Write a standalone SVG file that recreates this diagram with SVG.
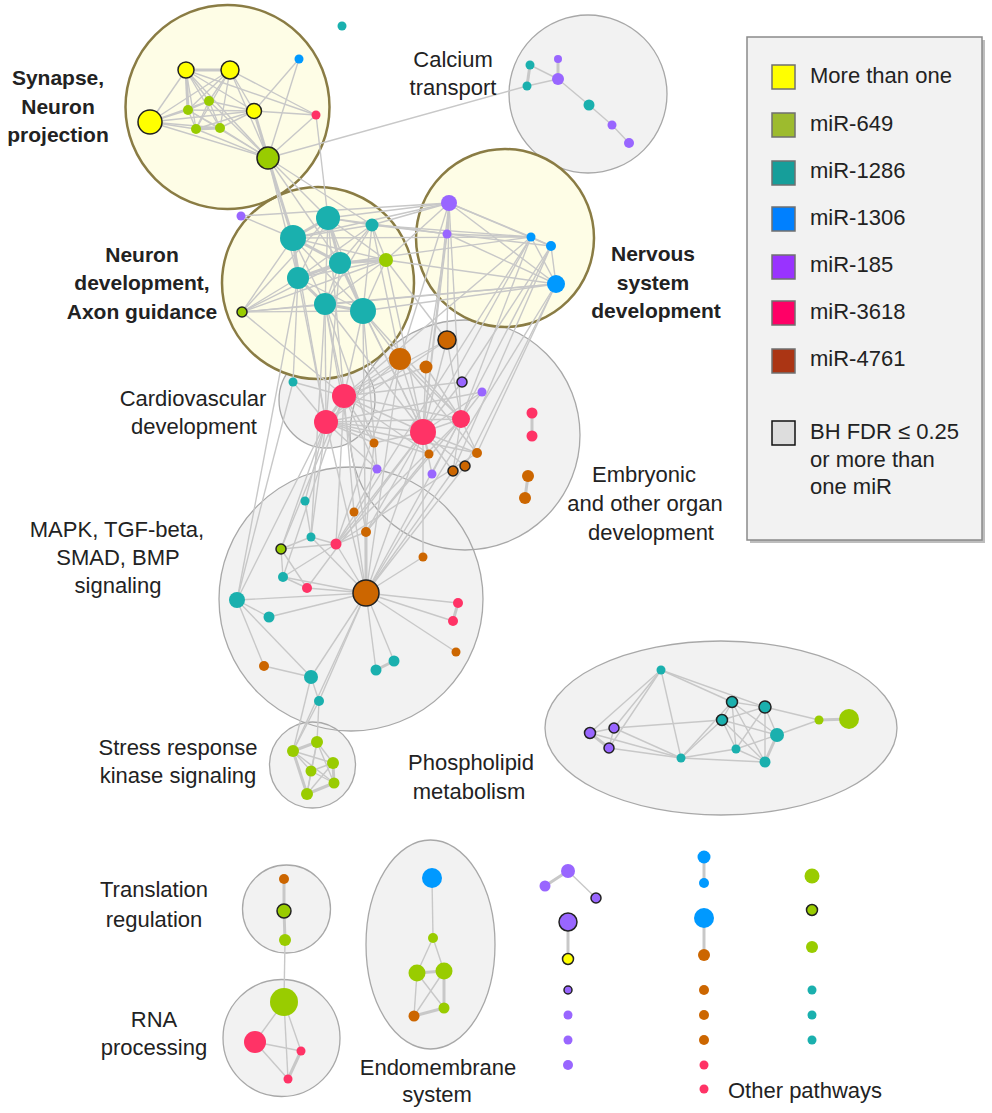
<svg xmlns="http://www.w3.org/2000/svg" width="992" height="1113" viewBox="0 0 992 1113">
<style>
.e{stroke:#c8c8c8;stroke-width:1.4;fill:none}
.w{stroke-width:3}
.cg{fill:#f2f2f2}
.cgs{fill:none;stroke:#a8a8a8;stroke-width:1.3}
.cy{fill:#fefde6}
.cys{fill:none;stroke:#8a7c44;stroke-width:2.5}
.y{fill:#ffff00}.g{fill:#99cc00}.t{fill:#1ab0ae}.b{fill:#0099ff}.p{fill:#9966ff}.k{fill:#ff3366}.o{fill:#cc6600}
.bd{stroke:#222;stroke-width:1.5}
text{font-family:"Liberation Sans",Arial,sans-serif;fill:#222}
.lb{font-size:22px;text-anchor:middle}
.lbb{font-size:21px;font-weight:bold;text-anchor:middle}
.lg{font-size:22px}
.sw{stroke:#707070;stroke-width:1.5}
</style>
<rect width="992" height="1113" fill="#ffffff"/>
<g id="clusters">
<circle class="cg" cx="588" cy="94" r="79"/>
<circle class="cg" cx="465" cy="435" r="115"/>
<circle class="cg" cx="351" cy="599" r="132"/>
<circle class="cg" cx="327" cy="400" r="48"/>
<circle class="cg" cx="312.5" cy="765" r="43"/>
<ellipse class="cg" cx="721" cy="728" rx="176" ry="87"/>
<circle class="cg" cx="286.5" cy="909" r="44"/>
<circle class="cg" cx="281.5" cy="1038" r="58.5"/>
<ellipse class="cg" cx="430.5" cy="944.5" rx="64.5" ry="104.5"/>
<circle class="cgs" cx="588" cy="94" r="79"/>
<circle class="cgs" cx="465" cy="435" r="115"/>
<circle class="cgs" cx="351" cy="599" r="132"/>
<circle class="cgs" cx="327" cy="400" r="48"/>
<circle class="cgs" cx="312.5" cy="765" r="43"/>
<ellipse class="cgs" cx="721" cy="728" rx="176" ry="87"/>
<circle class="cgs" cx="286.5" cy="909" r="44"/>
<circle class="cgs" cx="281.5" cy="1038" r="58.5"/>
<ellipse class="cgs" cx="430.5" cy="944.5" rx="64.5" ry="104.5"/>
<circle class="cy" cx="227.5" cy="107" r="102"/>
<circle class="cy" cx="318" cy="283" r="96"/>
<circle class="cy" cx="505" cy="238" r="89"/>
<circle class="cys" cx="227.5" cy="107" r="102"/>
<circle class="cys" cx="318" cy="283" r="96"/>
<circle class="cys" cx="505" cy="238" r="89"/>
</g>
<g id="connectors">
<!-- synapse -->
<line class="e w" x1="186" y1="70" x2="230" y2="70"/>
<line class="e" x1="186" y1="70" x2="150" y2="122"/>
<line class="e" x1="186" y1="70" x2="254" y2="111"/>
<line class="e w" x1="186" y1="70" x2="188" y2="110"/>
<line class="e" x1="186" y1="70" x2="209" y2="101"/>
<line class="e" x1="186" y1="70" x2="196" y2="129"/>
<line class="e" x1="186" y1="70" x2="220" y2="128"/>
<line class="e" x1="186" y1="70" x2="268" y2="158"/>
<line class="e" x1="230" y1="70" x2="150" y2="122"/>
<line class="e" x1="230" y1="70" x2="254" y2="111"/>
<line class="e" x1="230" y1="70" x2="188" y2="110"/>
<line class="e" x1="230" y1="70" x2="209" y2="101"/>
<line class="e" x1="230" y1="70" x2="196" y2="129"/>
<line class="e" x1="230" y1="70" x2="220" y2="128"/>
<line class="e" x1="230" y1="70" x2="268" y2="158"/>
<line class="e" x1="150" y1="122" x2="254" y2="111"/>
<line class="e" x1="150" y1="122" x2="188" y2="110"/>
<line class="e" x1="150" y1="122" x2="209" y2="101"/>
<line class="e" x1="150" y1="122" x2="196" y2="129"/>
<line class="e" x1="150" y1="122" x2="220" y2="128"/>
<line class="e" x1="150" y1="122" x2="268" y2="158"/>
<line class="e" x1="254" y1="111" x2="188" y2="110"/>
<line class="e" x1="254" y1="111" x2="209" y2="101"/>
<line class="e" x1="254" y1="111" x2="196" y2="129"/>
<line class="e" x1="254" y1="111" x2="220" y2="128"/>
<line class="e w" x1="254" y1="111" x2="268" y2="158"/>
<line class="e" x1="188" y1="110" x2="209" y2="101"/>
<line class="e" x1="188" y1="110" x2="196" y2="129"/>
<line class="e" x1="188" y1="110" x2="220" y2="128"/>
<line class="e" x1="188" y1="110" x2="268" y2="158"/>
<line class="e" x1="209" y1="101" x2="196" y2="129"/>
<line class="e" x1="209" y1="101" x2="220" y2="128"/>
<line class="e" x1="209" y1="101" x2="268" y2="158"/>
<line class="e w" x1="196" y1="129" x2="220" y2="128"/>
<line class="e" x1="196" y1="129" x2="268" y2="158"/>
<line class="e" x1="220" y1="128" x2="268" y2="158"/>
<line class="e" x1="299" y1="59" x2="254" y2="111"/>
<line class="e" x1="299" y1="59" x2="268" y2="158"/>
<line class="e" x1="316" y1="115" x2="186" y2="70"/>
<line class="e" x1="316" y1="115" x2="230" y2="70"/>
<line class="e" x1="316" y1="115" x2="268" y2="158"/>
<line class="e" x1="316" y1="115" x2="254" y2="111"/>
<line class="e" x1="316" y1="115" x2="328" y2="218"/>
<line class="e" x1="268" y1="158" x2="527" y2="86"/>
<line class="e" x1="268" y1="158" x2="328" y2="218"/>
<line class="e w" x1="268" y1="158" x2="293" y2="238"/>
<line class="e" x1="268" y1="158" x2="298" y2="278"/>
<line class="e" x1="268" y1="158" x2="372" y2="225"/>
<line class="e" x1="268" y1="158" x2="340" y2="263"/>
<line class="e" x1="241" y1="216" x2="293" y2="238"/>
<line class="e" x1="241" y1="216" x2="449" y2="203"/>
<!-- calcium -->
<line class="e w" x1="530" y1="65" x2="527" y2="86"/>
<line class="e" x1="530" y1="65" x2="558" y2="79"/>
<line class="e w" x1="558" y1="59" x2="558" y2="79"/>
<line class="e" x1="527" y1="86" x2="558" y2="79"/>
<line class="e" x1="558" y1="79" x2="589" y2="105"/>
<line class="e" x1="589" y1="105" x2="612" y2="125"/>
<line class="e" x1="612" y1="125" x2="629" y2="143"/>
<!-- neuron development internal -->
<line class="e w" x1="328" y1="218" x2="293" y2="238"/>
<line class="e" x1="328" y1="218" x2="372" y2="225"/>
<line class="e w" x1="328" y1="218" x2="340" y2="263"/>
<line class="e" x1="328" y1="218" x2="298" y2="278"/>
<line class="e" x1="328" y1="218" x2="325" y2="304"/>
<line class="e" x1="328" y1="218" x2="363" y2="311"/>
<line class="e" x1="328" y1="218" x2="386" y2="260"/>
<line class="e" x1="293" y1="238" x2="372" y2="225"/>
<line class="e w" x1="293" y1="238" x2="340" y2="263"/>
<line class="e w" x1="293" y1="238" x2="298" y2="278"/>
<line class="e" x1="293" y1="238" x2="325" y2="304"/>
<line class="e" x1="293" y1="238" x2="363" y2="311"/>
<line class="e" x1="293" y1="238" x2="386" y2="260"/>
<line class="e" x1="372" y1="225" x2="340" y2="263"/>
<line class="e" x1="372" y1="225" x2="298" y2="278"/>
<line class="e" x1="372" y1="225" x2="325" y2="304"/>
<line class="e" x1="372" y1="225" x2="363" y2="311"/>
<line class="e" x1="372" y1="225" x2="386" y2="260"/>
<line class="e w" x1="340" y1="263" x2="298" y2="278"/>
<line class="e" x1="340" y1="263" x2="325" y2="304"/>
<line class="e w" x1="340" y1="263" x2="363" y2="311"/>
<line class="e w" x1="340" y1="263" x2="386" y2="260"/>
<line class="e w" x1="298" y1="278" x2="325" y2="304"/>
<line class="e" x1="298" y1="278" x2="363" y2="311"/>
<line class="e" x1="298" y1="278" x2="386" y2="260"/>
<line class="e w" x1="325" y1="304" x2="363" y2="311"/>
<line class="e" x1="325" y1="304" x2="386" y2="260"/>
<line class="e" x1="363" y1="311" x2="386" y2="260"/>
<line class="e" x1="242" y1="312" x2="328" y2="218"/>
<line class="e" x1="242" y1="312" x2="293" y2="238"/>
<line class="e" x1="242" y1="312" x2="340" y2="263"/>
<line class="e" x1="242" y1="312" x2="298" y2="278"/>
<line class="e" x1="242" y1="312" x2="325" y2="304"/>
<line class="e" x1="242" y1="312" x2="363" y2="311"/>
<line class="e" x1="242" y1="312" x2="386" y2="260"/>
<line class="e" x1="242" y1="312" x2="556" y2="284"/>
<!-- neuron dev to nervous -->
<line class="e" x1="328" y1="218" x2="449" y2="203"/>
<line class="e" x1="372" y1="225" x2="449" y2="203"/>
<line class="e" x1="293" y1="238" x2="449" y2="203"/>
<line class="e" x1="328" y1="218" x2="447" y2="234"/>
<line class="e" x1="372" y1="225" x2="531" y2="237"/>
<line class="e" x1="340" y1="263" x2="531" y2="237"/>
<line class="e" x1="386" y1="260" x2="556" y2="284"/>
<line class="e" x1="363" y1="311" x2="556" y2="284"/>
<line class="e" x1="325" y1="304" x2="556" y2="284"/>
<line class="e" x1="372" y1="225" x2="551" y2="246"/>
<line class="e" x1="293" y1="238" x2="531" y2="237"/>
<line class="e" x1="386" y1="260" x2="449" y2="203"/>
<!-- nervous internal -->
<line class="e" x1="449" y1="203" x2="447" y2="234"/>
<line class="e" x1="449" y1="203" x2="531" y2="237"/>
<line class="e" x1="449" y1="203" x2="551" y2="246"/>
<line class="e" x1="449" y1="203" x2="556" y2="284"/>
<line class="e" x1="447" y1="234" x2="531" y2="237"/>
<line class="e" x1="447" y1="234" x2="556" y2="284"/>
<line class="e" x1="531" y1="237" x2="551" y2="246"/>
<line class="e" x1="531" y1="237" x2="556" y2="284"/>
<line class="e" x1="551" y1="246" x2="556" y2="284"/>
<!-- nervous to cardio / embryonic -->
<line class="e" x1="449" y1="203" x2="423" y2="432"/>
<line class="e" x1="449" y1="203" x2="461" y2="419"/>
<line class="e" x1="447" y1="234" x2="423" y2="432"/>
<line class="e" x1="531" y1="237" x2="461" y2="419"/>
<line class="e" x1="551" y1="246" x2="462" y2="382"/>
<line class="e" x1="556" y1="284" x2="477" y2="453"/>
<line class="e" x1="556" y1="284" x2="465" y2="466"/>
<line class="e" x1="551" y1="246" x2="453" y2="471"/>
<line class="e" x1="531" y1="237" x2="423" y2="432"/>
<line class="e" x1="449" y1="203" x2="400" y2="359"/>
<line class="e" x1="447" y1="234" x2="426" y2="367"/>
<line class="e" x1="449" y1="203" x2="447" y2="340"/>
<line class="e" x1="556" y1="284" x2="366" y2="593"/>
<line class="e" x1="551" y1="246" x2="432" y2="474"/>
<line class="e" x1="531" y1="237" x2="344" y2="396"/>
<!-- neuron dev to cardio -->
<line class="e" x1="298" y1="278" x2="326" y2="422"/>
<line class="e" x1="325" y1="304" x2="344" y2="396"/>
<line class="e" x1="363" y1="311" x2="423" y2="432"/>
<line class="e" x1="325" y1="304" x2="423" y2="432"/>
<line class="e" x1="363" y1="311" x2="400" y2="359"/>
<line class="e" x1="298" y1="278" x2="293" y2="382"/>
<line class="e" x1="242" y1="312" x2="344" y2="396"/>
<line class="e" x1="340" y1="263" x2="326" y2="422"/>
<line class="e" x1="363" y1="311" x2="461" y2="419"/>
<line class="e" x1="325" y1="304" x2="374" y2="443"/>
<line class="e" x1="293" y1="238" x2="326" y2="422"/>
<line class="e" x1="363" y1="311" x2="377" y2="469"/>
<line class="e" x1="340" y1="263" x2="423" y2="432"/>
<line class="e" x1="328" y1="218" x2="344" y2="396"/>
<line class="e" x1="372" y1="225" x2="400" y2="359"/>
<line class="e" x1="386" y1="260" x2="423" y2="432"/>
<line class="e" x1="386" y1="260" x2="447" y2="340"/>
<line class="e" x1="363" y1="311" x2="344" y2="396"/>
<line class="e" x1="325" y1="304" x2="326" y2="422"/>
<!-- cardio internal -->
<line class="e w" x1="344" y1="396" x2="326" y2="422"/>
<line class="e" x1="344" y1="396" x2="423" y2="432"/>
<line class="e" x1="326" y1="422" x2="423" y2="432"/>
<line class="e" x1="423" y1="432" x2="461" y2="419"/>
<line class="e" x1="344" y1="396" x2="461" y2="419"/>
<line class="e" x1="326" y1="422" x2="461" y2="419"/>
<line class="e" x1="400" y1="359" x2="344" y2="396"/>
<line class="e" x1="400" y1="359" x2="423" y2="432"/>
<line class="e" x1="400" y1="359" x2="326" y2="422"/>
<line class="e" x1="426" y1="367" x2="423" y2="432"/>
<line class="e" x1="426" y1="367" x2="344" y2="396"/>
<line class="e" x1="447" y1="340" x2="423" y2="432"/>
<line class="e" x1="447" y1="340" x2="461" y2="419"/>
<line class="e" x1="447" y1="340" x2="326" y2="422"/>
<line class="e" x1="462" y1="382" x2="423" y2="432"/>
<line class="e" x1="482" y1="392" x2="423" y2="432"/>
<line class="e" x1="482" y1="392" x2="461" y2="419"/>
<line class="e" x1="293" y1="382" x2="344" y2="396"/>
<line class="e" x1="293" y1="382" x2="326" y2="422"/>
<line class="e" x1="344" y1="396" x2="374" y2="443"/>
<line class="e" x1="326" y1="422" x2="374" y2="443"/>
<line class="e" x1="423" y1="432" x2="429" y2="454"/>
<line class="e" x1="423" y1="432" x2="477" y2="453"/>
<line class="e" x1="461" y1="419" x2="477" y2="453"/>
<line class="e" x1="461" y1="419" x2="453" y2="471"/>
<line class="e" x1="423" y1="432" x2="453" y2="471"/>
<line class="e" x1="423" y1="432" x2="465" y2="466"/>
<line class="e" x1="344" y1="396" x2="377" y2="469"/>
<line class="e" x1="326" y1="422" x2="377" y2="469"/>
<line class="e" x1="423" y1="432" x2="432" y2="474"/>
<line class="e" x1="374" y1="443" x2="423" y2="432"/>
<line class="e w" x1="532" y1="413" x2="532" y2="436"/>
<line class="e w" x1="528" y1="476" x2="525" y2="498"/>
<line class="e" x1="426" y1="367" x2="461" y2="419"/>
<line class="e" x1="400" y1="359" x2="461" y2="419"/>
<line class="e" x1="326" y1="422" x2="429" y2="454"/>
<line class="e" x1="344" y1="396" x2="429" y2="454"/>
<line class="e" x1="326" y1="422" x2="477" y2="453"/>
<line class="e" x1="400" y1="359" x2="477" y2="453"/>
<line class="e" x1="447" y1="340" x2="344" y2="396"/>
<line class="e" x1="462" y1="382" x2="344" y2="396"/>
<line class="e" x1="482" y1="392" x2="326" y2="422"/>
<!-- cardio to MAPK -->
<line class="e" x1="326" y1="422" x2="305" y2="501"/>
<line class="e" x1="344" y1="396" x2="354" y2="512"/>
<line class="e" x1="326" y1="422" x2="311" y2="537"/>
<line class="e" x1="344" y1="396" x2="336" y2="544"/>
<line class="e" x1="423" y1="432" x2="366" y2="532"/>
<line class="e" x1="461" y1="419" x2="366" y2="532"/>
<line class="e" x1="423" y1="432" x2="336" y2="544"/>
<line class="e" x1="326" y1="422" x2="281" y2="549"/>
<line class="e" x1="344" y1="396" x2="281" y2="549"/>
<line class="e" x1="423" y1="432" x2="366" y2="593"/>
<line class="e" x1="326" y1="422" x2="366" y2="593"/>
<line class="e" x1="461" y1="419" x2="366" y2="593"/>
<line class="e" x1="400" y1="359" x2="366" y2="593"/>
<line class="e" x1="423" y1="432" x2="423" y2="557"/>
<line class="e" x1="374" y1="443" x2="366" y2="532"/>
<line class="e" x1="377" y1="469" x2="354" y2="512"/>
<line class="e" x1="326" y1="422" x2="237" y2="600"/>
<line class="e" x1="293" y1="382" x2="237" y2="600"/>
<line class="e" x1="423" y1="432" x2="307" y2="588"/>
<line class="e" x1="465" y1="466" x2="366" y2="593"/>
<line class="e" x1="453" y1="471" x2="366" y2="593"/>
<line class="e" x1="344" y1="396" x2="283" y2="577"/>
<line class="e" x1="461" y1="419" x2="336" y2="544"/>
<line class="e" x1="400" y1="359" x2="336" y2="544"/>
<line class="e" x1="298" y1="278" x2="237" y2="600"/>
<line class="e" x1="325" y1="304" x2="311" y2="537"/>
<line class="e" x1="363" y1="311" x2="366" y2="593"/>
<line class="e" x1="325" y1="304" x2="366" y2="532"/>
<line class="e" x1="531" y1="237" x2="336" y2="544"/>
<line class="e" x1="477" y1="453" x2="336" y2="544"/>
<line class="e" x1="429" y1="454" x2="366" y2="532"/>
<!-- MAPK internal -->
<line class="e" x1="366" y1="593" x2="237" y2="600"/>
<line class="e" x1="366" y1="593" x2="269" y2="617"/>
<line class="e" x1="366" y1="593" x2="307" y2="588"/>
<line class="e" x1="366" y1="593" x2="283" y2="577"/>
<line class="e" x1="366" y1="593" x2="336" y2="544"/>
<line class="e w" x1="366" y1="593" x2="366" y2="532"/>
<line class="e" x1="366" y1="593" x2="423" y2="557"/>
<line class="e" x1="366" y1="593" x2="458" y2="603"/>
<line class="e" x1="366" y1="593" x2="453" y2="621"/>
<line class="e" x1="366" y1="593" x2="456" y2="652"/>
<line class="e" x1="366" y1="593" x2="376" y2="670"/>
<line class="e" x1="366" y1="593" x2="394" y2="661"/>
<line class="e" x1="366" y1="593" x2="311" y2="677"/>
<line class="e" x1="366" y1="593" x2="319" y2="701"/>
<line class="e" x1="366" y1="593" x2="354" y2="512"/>
<line class="e" x1="237" y1="600" x2="269" y2="617"/>
<line class="e" x1="237" y1="600" x2="264" y2="666"/>
<line class="e" x1="237" y1="600" x2="311" y2="677"/>
<line class="e" x1="264" y1="666" x2="311" y2="677"/>
<line class="e" x1="311" y1="677" x2="319" y2="701"/>
<line class="e" x1="281" y1="549" x2="283" y2="577"/>
<line class="e" x1="281" y1="549" x2="311" y2="537"/>
<line class="e" x1="281" y1="549" x2="336" y2="544"/>
<line class="e" x1="281" y1="549" x2="307" y2="588"/>
<line class="e" x1="311" y1="537" x2="336" y2="544"/>
<line class="e" x1="283" y1="577" x2="336" y2="544"/>
<line class="e w" x1="458" y1="603" x2="453" y2="621"/>
<line class="e w" x1="376" y1="670" x2="394" y2="661"/>
<line class="e" x1="336" y1="544" x2="366" y2="532"/>
<line class="e" x1="305" y1="501" x2="311" y2="537"/>
<line class="e" x1="283" y1="577" x2="307" y2="588"/>
<line class="e" x1="311" y1="537" x2="366" y2="593"/>
<!-- MAPK to stress -->
<line class="e" x1="311" y1="677" x2="293" y2="751"/>
<line class="e" x1="319" y1="701" x2="293" y2="751"/>
<line class="e" x1="319" y1="701" x2="317" y2="742"/>
<line class="e" x1="366" y1="593" x2="293" y2="751"/>
<!-- stress internal -->
<line class="e w" x1="293" y1="751" x2="317" y2="742"/>
<line class="e" x1="293" y1="751" x2="333" y2="763"/>
<line class="e" x1="293" y1="751" x2="311" y2="771"/>
<line class="e" x1="293" y1="751" x2="334" y2="783"/>
<line class="e w" x1="293" y1="751" x2="307" y2="794"/>
<line class="e" x1="317" y1="742" x2="333" y2="763"/>
<line class="e" x1="317" y1="742" x2="311" y2="771"/>
<line class="e" x1="317" y1="742" x2="334" y2="783"/>
<line class="e" x1="317" y1="742" x2="307" y2="794"/>
<line class="e" x1="333" y1="763" x2="311" y2="771"/>
<line class="e w" x1="333" y1="763" x2="334" y2="783"/>
<line class="e" x1="333" y1="763" x2="307" y2="794"/>
<line class="e" x1="311" y1="771" x2="334" y2="783"/>
<line class="e" x1="311" y1="771" x2="307" y2="794"/>
<line class="e w" x1="334" y1="783" x2="307" y2="794"/>
<!-- phospholipid -->
<line class="e" x1="661" y1="670" x2="590" y2="733"/>
<line class="e" x1="661" y1="670" x2="614" y2="728"/>
<line class="e" x1="661" y1="670" x2="609" y2="748"/>
<line class="e" x1="661" y1="670" x2="681" y2="758"/>
<line class="e" x1="661" y1="670" x2="732" y2="702"/>
<line class="e" x1="661" y1="670" x2="765" y2="707"/>
<line class="e" x1="590" y1="733" x2="614" y2="728"/>
<line class="e w" x1="590" y1="733" x2="609" y2="748"/>
<line class="e" x1="614" y1="728" x2="609" y2="748"/>
<line class="e" x1="590" y1="733" x2="681" y2="758"/>
<line class="e" x1="614" y1="728" x2="681" y2="758"/>
<line class="e" x1="609" y1="748" x2="681" y2="758"/>
<line class="e" x1="614" y1="728" x2="722" y2="720"/>
<line class="e" x1="681" y1="758" x2="722" y2="720"/>
<line class="e" x1="681" y1="758" x2="732" y2="702"/>
<line class="e" x1="681" y1="758" x2="765" y2="762"/>
<line class="e" x1="681" y1="758" x2="736" y2="749"/>
<line class="e" x1="732" y1="702" x2="765" y2="707"/>
<line class="e" x1="732" y1="702" x2="722" y2="720"/>
<line class="e" x1="732" y1="702" x2="736" y2="749"/>
<line class="e" x1="732" y1="702" x2="765" y2="762"/>
<line class="e" x1="732" y1="702" x2="777" y2="735"/>
<line class="e" x1="765" y1="707" x2="722" y2="720"/>
<line class="e" x1="765" y1="707" x2="777" y2="735"/>
<line class="e" x1="765" y1="707" x2="736" y2="749"/>
<line class="e" x1="765" y1="707" x2="765" y2="762"/>
<line class="e" x1="765" y1="707" x2="819" y2="720"/>
<line class="e" x1="722" y1="720" x2="777" y2="735"/>
<line class="e" x1="722" y1="720" x2="736" y2="749"/>
<line class="e" x1="722" y1="720" x2="765" y2="762"/>
<line class="e" x1="777" y1="735" x2="819" y2="720"/>
<line class="e w" x1="777" y1="735" x2="765" y2="762"/>
<line class="e" x1="777" y1="735" x2="736" y2="749"/>
<line class="e" x1="736" y1="749" x2="765" y2="762"/>
<line class="e w" x1="819" y1="720" x2="849" y2="719"/>
<!-- translation / RNA -->
<line class="e w" x1="284" y1="879" x2="284" y2="911"/>
<line class="e w" x1="284" y1="911" x2="285" y2="940"/>
<line class="e" x1="285" y1="940" x2="284" y2="1002"/>
<line class="e" x1="284" y1="1002" x2="255" y2="1042"/>
<line class="e" x1="284" y1="1002" x2="301" y2="1051"/>
<line class="e" x1="284" y1="1002" x2="288" y2="1079"/>
<line class="e" x1="255" y1="1042" x2="301" y2="1051"/>
<line class="e" x1="255" y1="1042" x2="288" y2="1079"/>
<line class="e w" x1="301" y1="1051" x2="288" y2="1079"/>
<!-- endomembrane -->
<line class="e" x1="432" y1="878" x2="433" y2="938"/>
<line class="e" x1="433" y1="938" x2="417" y2="973"/>
<line class="e" x1="433" y1="938" x2="444" y2="971"/>
<line class="e w" x1="417" y1="973" x2="444" y2="971"/>
<line class="e" x1="417" y1="973" x2="444" y2="1008"/>
<line class="e" x1="417" y1="973" x2="414" y2="1016"/>
<line class="e w" x1="444" y1="971" x2="444" y2="1008"/>
<line class="e" x1="444" y1="971" x2="414" y2="1016"/>
<line class="e w" x1="444" y1="1008" x2="414" y2="1016"/>
<!-- other pathways -->
<line class="e w" x1="568" y1="871" x2="545" y2="886"/>
<line class="e" x1="568" y1="871" x2="596" y2="898"/>
<line class="e w" x1="568" y1="922" x2="568" y2="959"/>
<line class="e w" x1="704" y1="857" x2="704" y2="883"/>
<line class="e w" x1="704" y1="918" x2="704" y2="955"/>
</g>
<g id="nodes">
<g id="n-t0"><circle class="t" cx="342" cy="26" r="4.5"/></g>
<g id="n-s1"><circle class="y bd" cx="186" cy="70" r="8"/></g>
<g id="n-s2"><circle class="y bd" cx="230" cy="70" r="9"/></g>
<g id="n-s3"><circle class="y bd" cx="150" cy="122" r="12"/></g>
<g id="n-s4"><circle class="y bd" cx="254" cy="111" r="7.5"/></g>
<g id="n-s5"><circle class="g" cx="188" cy="110" r="5"/></g>
<g id="n-s6"><circle class="g" cx="209" cy="101" r="5"/></g>
<g id="n-s7"><circle class="g" cx="196" cy="129" r="5"/></g>
<g id="n-s8"><circle class="g" cx="220" cy="128" r="5"/></g>
<g id="n-s9"><circle class="g bd" cx="268" cy="158" r="11"/></g>
<g id="n-s10"><circle class="b" cx="299" cy="59" r="4.5"/></g>
<g id="n-s11"><circle class="k" cx="316" cy="115" r="4.5"/></g>
<g id="n-p0"><circle class="p" cx="241" cy="216" r="4.5"/></g>
<g id="n-a1"><circle class="t" cx="530" cy="65" r="4.5"/></g>
<g id="n-a2"><circle class="t" cx="527" cy="86" r="4.5"/></g>
<g id="n-a3"><circle class="p" cx="558" cy="59" r="4"/></g>
<g id="n-a4"><circle class="p" cx="558" cy="79" r="6"/></g>
<g id="n-a5"><circle class="t" cx="589" cy="105" r="5.5"/></g>
<g id="n-a6"><circle class="p" cx="612" cy="125" r="4.5"/></g>
<g id="n-a7"><circle class="p" cx="629" cy="143" r="5"/></g>
<g id="n-n1"><circle class="t" cx="328" cy="218" r="12"/></g>
<g id="n-n2"><circle class="t" cx="293" cy="238" r="13"/></g>
<g id="n-n3"><circle class="t" cx="372" cy="225" r="6.5"/></g>
<g id="n-n4"><circle class="t" cx="340" cy="263" r="11"/></g>
<g id="n-n5"><circle class="t" cx="298" cy="278" r="11"/></g>
<g id="n-n6"><circle class="t" cx="325" cy="304" r="11"/></g>
<g id="n-n7"><circle class="t" cx="363" cy="311" r="13"/></g>
<g id="n-n8"><circle class="g" cx="386" cy="260" r="7"/></g>
<g id="n-n9"><circle class="g bd" cx="242" cy="312" r="5"/></g>
<g id="n-v1"><circle class="p" cx="449" cy="203" r="8"/></g>
<g id="n-v2"><circle class="p" cx="447" cy="234" r="4.5"/></g>
<g id="n-v3"><circle class="b" cx="531" cy="237" r="4.5"/></g>
<g id="n-v4"><circle class="b" cx="551" cy="246" r="5"/></g>
<g id="n-v5"><circle class="b" cx="556" cy="284" r="9"/></g>
<g id="n-c1"><circle class="o bd" cx="447" cy="340" r="9"/></g>
<g id="n-c2"><circle class="o" cx="400" cy="359" r="11"/></g>
<g id="n-c3"><circle class="o" cx="426" cy="367" r="6.5"/></g>
<g id="n-c4"><circle class="p bd" cx="462" cy="382" r="5"/></g>
<g id="n-c5"><circle class="p" cx="482" cy="392" r="4.5"/></g>
<g id="n-c6"><circle class="t" cx="293" cy="382" r="4.5"/></g>
<g id="n-c7"><circle class="k" cx="344" cy="396" r="12"/></g>
<g id="n-c8"><circle class="k" cx="326" cy="422" r="12"/></g>
<g id="n-c9"><circle class="k" cx="423" cy="432" r="13"/></g>
<g id="n-c10"><circle class="k" cx="461" cy="419" r="9"/></g>
<g id="n-c11"><circle class="k" cx="532" cy="413" r="5.5"/></g>
<g id="n-c12"><circle class="k" cx="532" cy="436" r="5.5"/></g>
<g id="n-c13"><circle class="o" cx="528" cy="476" r="6"/></g>
<g id="n-c14"><circle class="o" cx="525" cy="498" r="6"/></g>
<g id="n-c15"><circle class="o" cx="374" cy="443" r="4.5"/></g>
<g id="n-c16"><circle class="o" cx="429" cy="454" r="4.5"/></g>
<g id="n-c17"><circle class="o" cx="477" cy="453" r="5"/></g>
<g id="n-c18"><circle class="o bd" cx="453" cy="471" r="5"/></g>
<g id="n-c19"><circle class="o bd" cx="465" cy="466" r="5"/></g>
<g id="n-c20"><circle class="p" cx="377" cy="469" r="4.5"/></g>
<g id="n-c21"><circle class="p" cx="432" cy="474" r="4.5"/></g>
<g id="n-m1"><circle class="t" cx="305" cy="501" r="4.5"/></g>
<g id="n-m2"><circle class="o" cx="354" cy="512" r="4.5"/></g>
<g id="n-m3"><circle class="t" cx="311" cy="537" r="4.5"/></g>
<g id="n-m4"><circle class="k" cx="336" cy="544" r="5.5"/></g>
<g id="n-m5"><circle class="o" cx="366" cy="532" r="5"/></g>
<g id="n-m6"><circle class="g bd" cx="281" cy="549" r="5"/></g>
<g id="n-m7"><circle class="o" cx="423" cy="557" r="4.5"/></g>
<g id="n-m8"><circle class="t" cx="283" cy="577" r="5"/></g>
<g id="n-m9"><circle class="k" cx="307" cy="588" r="5"/></g>
<g id="n-m10"><circle class="o bd" cx="366" cy="593" r="13"/></g>
<g id="n-m11"><circle class="t" cx="237" cy="600" r="8"/></g>
<g id="n-m12"><circle class="t" cx="269" cy="617" r="5.5"/></g>
<g id="n-m13"><circle class="k" cx="458" cy="603" r="5"/></g>
<g id="n-m14"><circle class="k" cx="453" cy="621" r="5"/></g>
<g id="n-m15"><circle class="o" cx="456" cy="652" r="4.5"/></g>
<g id="n-m16"><circle class="t" cx="376" cy="670" r="5.5"/></g>
<g id="n-m17"><circle class="t" cx="394" cy="661" r="5.5"/></g>
<g id="n-m18"><circle class="o" cx="264" cy="666" r="5"/></g>
<g id="n-m19"><circle class="t" cx="311" cy="677" r="7"/></g>
<g id="n-m20"><circle class="t" cx="319" cy="701" r="5"/></g>
<g id="n-k1"><circle class="g" cx="293" cy="751" r="6"/></g>
<g id="n-k2"><circle class="g" cx="317" cy="742" r="6"/></g>
<g id="n-k3"><circle class="g" cx="333" cy="763" r="6"/></g>
<g id="n-k4"><circle class="g" cx="311" cy="771" r="5.5"/></g>
<g id="n-k5"><circle class="g" cx="334" cy="783" r="5.5"/></g>
<g id="n-k6"><circle class="g" cx="307" cy="794" r="6"/></g>
<g id="n-l1"><circle class="t" cx="661" cy="670" r="4.5"/></g>
<g id="n-l2"><circle class="t bd" cx="732" cy="702" r="5.5"/></g>
<g id="n-l3"><circle class="t bd" cx="765" cy="707" r="6"/></g>
<g id="n-l4"><circle class="t bd" cx="722" cy="720" r="5.5"/></g>
<g id="n-l5"><circle class="g" cx="819" cy="720" r="4.5"/></g>
<g id="n-l6"><circle class="g" cx="849" cy="719" r="10"/></g>
<g id="n-l7"><circle class="t" cx="777" cy="735" r="7"/></g>
<g id="n-l8"><circle class="p bd" cx="590" cy="733" r="5.5"/></g>
<g id="n-l9"><circle class="p bd" cx="614" cy="728" r="5"/></g>
<g id="n-l10"><circle class="p bd" cx="609" cy="748" r="5"/></g>
<g id="n-l11"><circle class="t" cx="681" cy="758" r="4.5"/></g>
<g id="n-l12"><circle class="t" cx="736" cy="749" r="4.5"/></g>
<g id="n-l13"><circle class="t" cx="765" cy="762" r="5.5"/></g>
<g id="n-r1"><circle class="o" cx="284" cy="879" r="5"/></g>
<g id="n-r2"><circle class="g bd" cx="284" cy="911" r="7"/></g>
<g id="n-r3"><circle class="g" cx="285" cy="940" r="6"/></g>
<g id="n-r4"><circle class="g" cx="284" cy="1002" r="14"/></g>
<g id="n-r5"><circle class="k" cx="255" cy="1042" r="11"/></g>
<g id="n-r6"><circle class="k" cx="301" cy="1051" r="4.5"/></g>
<g id="n-r7"><circle class="k" cx="288" cy="1079" r="4.5"/></g>
<g id="n-e1"><circle class="b" cx="432" cy="878" r="10"/></g>
<g id="n-e2"><circle class="g" cx="433" cy="938" r="5"/></g>
<g id="n-e3"><circle class="g" cx="417" cy="973" r="8.5"/></g>
<g id="n-e4"><circle class="g" cx="444" cy="971" r="8.5"/></g>
<g id="n-e5"><circle class="g" cx="444" cy="1008" r="5.5"/></g>
<g id="n-e6"><circle class="o" cx="414" cy="1016" r="5.5"/></g>
<g id="n-x1"><circle class="p" cx="568" cy="871" r="7"/></g>
<g id="n-x2"><circle class="p" cx="545" cy="886" r="5.5"/></g>
<g id="n-x3"><circle class="p bd" cx="596" cy="898" r="5"/></g>
<g id="n-x4"><circle class="p bd" cx="568" cy="922" r="9"/></g>
<g id="n-x5"><circle class="y bd" cx="568" cy="959" r="5.5"/></g>
<g id="n-x6"><circle class="p bd" cx="568" cy="990" r="4"/></g>
<g id="n-x7"><circle class="p" cx="568" cy="1015" r="4.5"/></g>
<g id="n-x8"><circle class="p" cx="568" cy="1040" r="4.5"/></g>
<g id="n-x9"><circle class="p" cx="568" cy="1065" r="5"/></g>
<g id="n-y1"><circle class="b" cx="704" cy="857" r="6.5"/></g>
<g id="n-y2"><circle class="b" cx="704" cy="883" r="5"/></g>
<g id="n-y3"><circle class="b" cx="704" cy="918" r="10"/></g>
<g id="n-y4"><circle class="o" cx="704" cy="955" r="6"/></g>
<g id="n-y5"><circle class="o" cx="704" cy="990" r="5"/></g>
<g id="n-y6"><circle class="o" cx="704" cy="1015" r="5"/></g>
<g id="n-y7"><circle class="o" cx="704" cy="1040" r="5"/></g>
<g id="n-y8"><circle class="k" cx="704" cy="1065" r="4.5"/></g>
<g id="n-y9"><circle class="k" cx="704" cy="1089" r="4.5"/></g>
<g id="n-z1"><circle class="g" cx="812" cy="876" r="7.5"/></g>
<g id="n-z2"><circle class="g bd" cx="812" cy="910" r="5.5"/></g>
<g id="n-z3"><circle class="g" cx="812" cy="947" r="6"/></g>
<g id="n-z4"><circle class="t" cx="812" cy="990" r="4.5"/></g>
<g id="n-z5"><circle class="t" cx="812" cy="1015" r="4.5"/></g>
<g id="n-z6"><circle class="t" cx="812" cy="1040" r="4.5"/></g>
</g>
<g id="labels">
<text class="lbb" x="58" y="85">Synapse,</text>
<text class="lbb" x="58" y="114">Neuron</text>
<text class="lbb" x="58" y="142">projection</text>
<text class="lbb" x="142" y="262">Neuron</text>
<text class="lbb" x="142" y="290">development,</text>
<text class="lbb" x="142" y="319">Axon guidance</text>
<text class="lbb" x="653" y="261">Nervous</text>
<text class="lbb" x="653" y="290">system</text>
<text class="lbb" x="656" y="318">development</text>
<text class="lb" x="453" y="67">Calcium</text>
<text class="lb" x="453" y="95">transport</text>
<text class="lb" x="193" y="406">Cardiovascular</text>
<text class="lb" x="194" y="434">development</text>
<text class="lb" x="117" y="537">MAPK, TGF-beta,</text>
<text class="lb" x="118" y="565">SMAD, BMP</text>
<text class="lb" x="118" y="593">signaling</text>
<text class="lb" x="644" y="482">Embryonic</text>
<text class="lb" x="645" y="511">and other organ</text>
<text class="lb" x="651" y="540">development</text>
<text class="lb" x="178" y="755">Stress response</text>
<text class="lb" x="178" y="783">kinase signaling</text>
<text class="lb" x="471" y="770">Phospholipid</text>
<text class="lb" x="469" y="799">metabolism</text>
<text class="lb" x="154" y="897">Translation</text>
<text class="lb" x="154" y="927">regulation</text>
<text class="lb" x="154" y="1027">RNA</text>
<text class="lb" x="154" y="1055">processing</text>
<text class="lb" x="438" y="1075">Endomembrane</text>
<text class="lb" x="437" y="1102">system</text>
<text class="lg" x="728" y="1098">Other pathways</text>
</g>
<g id="legend">
<rect x="750" y="40" width="235" height="503" fill="#bdbdbd"/>
<rect x="747" y="37" width="235" height="503" fill="#f2f2f2" stroke="#8a8a8a" stroke-width="1.5"/>
<rect class="sw" x="772" y="65" width="23" height="24" fill="#ffff00"/>
<rect class="sw" x="772" y="113" width="23" height="24" fill="#9dbb2e"/>
<rect class="sw" x="772" y="161" width="23" height="24" fill="#169e9a"/>
<rect class="sw" x="772" y="207" width="23" height="24" fill="#0080ff"/>
<rect class="sw" x="772" y="255" width="23" height="24" fill="#9933ff"/>
<rect class="sw" x="772" y="301" width="23" height="24" fill="#ff0066"/>
<rect class="sw" x="772" y="349" width="23" height="24" fill="#ab3514"/>
<rect x="772" y="421" width="23" height="24" fill="#dddddd" stroke="#111" stroke-width="1.5"/>
<text class="lg" x="810" y="83">More than one</text>
<text class="lg" x="810" y="131">miR-649</text>
<text class="lg" x="810" y="178">miR-1286</text>
<text class="lg" x="810" y="225">miR-1306</text>
<text class="lg" x="810" y="272">miR-185</text>
<text class="lg" x="810" y="319">miR-3618</text>
<text class="lg" x="810" y="366">miR-4761</text>
<text class="lg" x="810" y="439">BH FDR ≤ 0.25</text>
<text class="lg" x="810" y="467">or more than</text>
<text class="lg" x="810" y="494">one miR</text>
</g>
</svg>
